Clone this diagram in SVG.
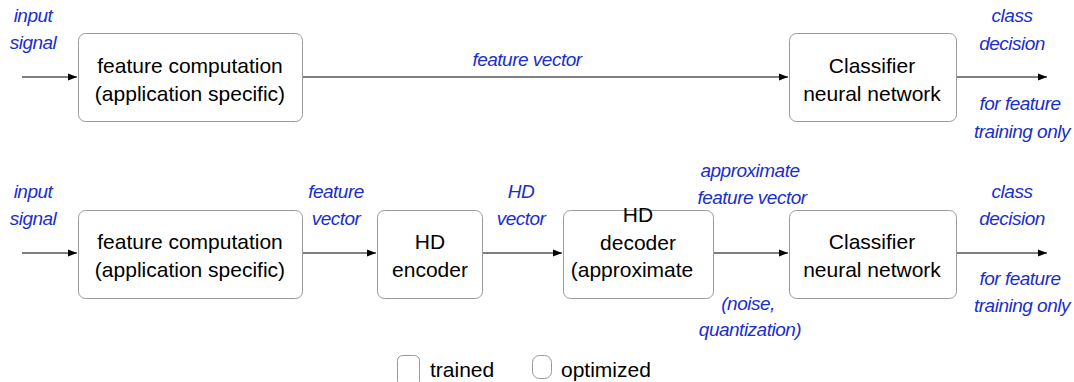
<svg xmlns="http://www.w3.org/2000/svg" width="1074" height="382" viewBox="0 0 1074 382">
<style>
.box{fill:#fff;stroke:#9a9a9a;stroke-width:1}
.t{font-family:"Liberation Sans",Arial,sans-serif;font-size:21px;fill:#000;text-anchor:middle}
.b{font-family:"Liberation Sans",Arial,sans-serif;font-size:19px;letter-spacing:-0.5px;font-style:italic;fill:#1a2ecc;text-anchor:middle}
.c{stroke:#000;stroke-width:1;fill:none;marker-end:url(#ah)}
</style>
<defs>
<marker id="ah" markerWidth="10" markerHeight="8" refX="9" refY="4" orient="auto" markerUnits="userSpaceOnUse">
<path d="M0,0.5 L9,4 L0,7.5 Z" fill="#000"/>
</marker>
</defs>
<rect width="1074" height="382" fill="#fff"/>
<g id="connectors">
<path class="c" d="M22,77 H77"/>
<path class="c" d="M302,77 H788"/>
<path class="c" d="M956,77 H1047"/>
<path class="c" d="M22,253 H77"/>
<path class="c" d="M302,253 H376"/>
<path class="c" d="M482,253 H562"/>
<path class="c" d="M713,253 H788"/>
<path class="c" d="M956,253 H1047"/>
</g>
<g id="labels">
<text class="b" x="33" y="22">input</text>
<text class="b" x="33" y="49">signal</text>
<text class="b" x="527" y="66">feature vector</text>
<text class="b" x="1012" y="22">class</text>
<text class="b" x="1012" y="50">decision</text>
<text class="b" x="1020" y="110">for feature</text>
<text class="b" x="1022" y="138">training only</text>
<text class="b" x="33" y="198">input</text>
<text class="b" x="33" y="225">signal</text>
<text class="b" x="336" y="198">feature</text>
<text class="b" x="336" y="225">vector</text>
<text class="b" x="521" y="198">HD</text>
<text class="b" x="521" y="225">vector</text>
<text class="b" x="750" y="177">approximate</text>
<text class="b" x="752" y="204">feature vector</text>
<text class="b" x="748" y="310">(noise,</text>
<text class="b" x="750" y="336">quantization)</text>
<text class="b" x="1012" y="198">class</text>
<text class="b" x="1012" y="225">decision</text>
<text class="b" x="1020" y="285">for feature</text>
<text class="b" x="1022" y="312">training only</text>
</g>
<g id="feat1">
<rect class="box" x="78.5" y="33.5" width="224" height="88" rx="7"/>
<text class="t" x="190" y="73">feature computation</text>
<text class="t" x="190" y="101">(application specific)</text>
</g>
<g id="cls1">
<rect class="box" x="789.5" y="33.5" width="167" height="88" rx="7"/>
<text class="t" x="872" y="73">Classifier</text>
<text class="t" x="872" y="101">neural network</text>
</g>
<g id="feat2">
<rect class="box" x="78.5" y="210.5" width="224" height="88" rx="7"/>
<text class="t" x="190" y="249">feature computation</text>
<text class="t" x="190" y="277">(application specific)</text>
</g>
<g id="enc">
<rect class="box" x="377.5" y="210.5" width="105" height="88" rx="7"/>
<text class="t" x="430" y="249">HD</text>
<text class="t" x="430" y="277">encoder</text>
</g>
<g id="dec">
<rect class="box" x="563.5" y="210.5" width="150" height="88" rx="7"/>
<text class="t" x="638" y="222">HD</text>
<text class="t" x="638" y="250">decoder</text>
<text class="t" x="632" y="277">(approximate</text>
</g>
<g id="cls2">
<rect class="box" x="789.5" y="210.5" width="167" height="88" rx="7"/>
<text class="t" x="872" y="249">Classifier</text>
<text class="t" x="872" y="277">neural network</text>
</g>
<g id="legend">
<rect class="box" x="397.5" y="355.5" width="22" height="30" rx="5"/>
<text class="t" x="430" y="377" style="text-anchor:start">trained</text>
<rect class="box" x="532.5" y="355.5" width="19" height="23" rx="7"/>
<text class="t" x="561" y="377" style="text-anchor:start">optimized</text>
</g>
</svg>
